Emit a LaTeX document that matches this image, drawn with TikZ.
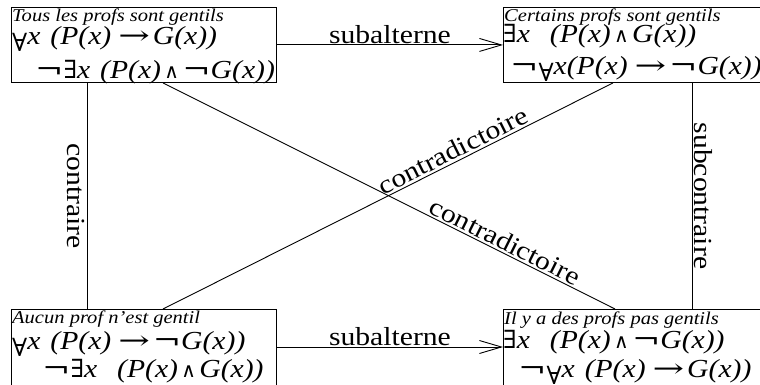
\documentclass[tikz,border=0pt]{standalone}
\usepackage{fontspec}
\setmainfont{Liberation Serif}[FakeStretch=1.14]
\newfontfamily\frmf{Liberation Serif}[FakeStretch=1.14]
\newfontfamily\symf{DejaVu Serif}
\usetikzlibrary{arrows.meta,calc}
\newcommand\qFa{\raisebox{-7pt}{\symf\fontsize{25}{25}\selectfont ∀}}
\newcommand\qEx{{\symf\fontsize{25}{25}\selectfont ∃}}
\newcommand\qNg{{\symf\scalebox{1.3}[1]{¬}}}
\newcommand\qIm{\hspace{7pt}{\symf\scalebox{1.45}[1]{→}}\hspace{3pt}}
\newcommand\qAn{{\symf\fontsize{20}{20}\selectfont\,∧\,}}
\newcommand\qSp{\hspace{10pt}}
\tikzset{
  box/.style={draw, line width=0.9pt, rectangle, inner sep=0pt, anchor=north west,
    minimum width=265pt, minimum height=75pt},
  bbox/.style={box, minimum height=90pt},
  ttl/.style={anchor=base west, inner sep=0pt, font=\fontsize{18}{18}\selectfont\itshape},
  frm/.style={anchor=base west, inner sep=0pt, font=\frmf\fontsize{26}{26}\selectfont\itshape},
  lab/.style={inner sep=2pt, font=\fontsize{26}{26}\selectfont},
  link/.style={line width=0.9pt},
  arr/.style={link, -{Straight Barb[length=22pt,width=13pt,line width=0.9pt]}}
}
\begin{document}
\begin{tikzpicture}[x=1pt,y=-1pt]
\useasboundingbox (0,0) rectangle (760,385);
\clip (0,0) rectangle (760,385);
\node[box] (tl) at (11,7) {};
\node[box] (tr) at (503,7) {};
\node[bbox] (bl) at (11,309) {};
\node[bbox] (br) at (503,309) {};
% texts
\node[ttl] (tl1) at (12,22) {Tous les profs sont gentils};
\node[frm] (tl2) at (12,45) {\qFa x\qSp(P(x)\qIm G(x))};
\node[frm] (tl3) at (35,79) {\qNg\qEx x\qSp(P(x)\qAn\qNg G(x))};
\node[ttl] (tr1) at (504,22) {Certains profs sont gentils};
\node[frm] (tr2) at (503,43) {\qEx x\qSp\qSp(P(x)\qAn G(x))};
\node[frm] (tr3) at (510,75) {\qNg\qFa x(P(x)\qIm\qNg G(x))};
\node[ttl] (bl1) at (12,323) {Aucun prof n’est gentil};
\node[frm] (bl2) at (12,349) {\qFa x\qSp(P(x)\qIm\qNg G(x))};
\node[frm] (bl3) at (42,377) {\qNg\qEx x\qSp\qSp(P(x)\qAn G(x))};
\node[ttl] (br1) at (504,324) {Il y a des profs pas gentils};
\node[frm] (br2) at (503,348) {\qEx x\qSp\qSp(P(x)\qAn\qNg G(x))};
\node[frm] (br3) at (518,377) {\qNg\qFa x\qSp(P(x)\qIm G(x))};
% connectors
\draw[arr] (tl.east) -- node[lab, above, inner sep=1pt] (s1) {subalterne} (tr.west);
\draw[arr] ([yshift=-38pt]bl.north east) -- node[lab, above, inner sep=1pt] (s2) {subalterne} ([yshift=-38pt]br.north west);
\draw[link] ([xshift=76pt]tl.south west) -- node[lab, sloped, below] (c1) {contraire} ([xshift=76pt]bl.north west);
\draw[link] ([xshift=189pt]tr.south west) -- node[lab, sloped, above] (c2) {subcontraire} ([xshift=189pt]br.north west);
\draw[link] ([xshift=152pt]bl.north west) -- node[lab, sloped, above, pos=0.656] (d1) {contradictoire} ([xshift=110pt]tr.south west);
\draw[link] ([xshift=152pt]tl.south west) -- node[lab, sloped, above, pos=0.746] (d2) {contradictoire} ([xshift=112pt]br.north west);
\end{tikzpicture}
\end{document}
